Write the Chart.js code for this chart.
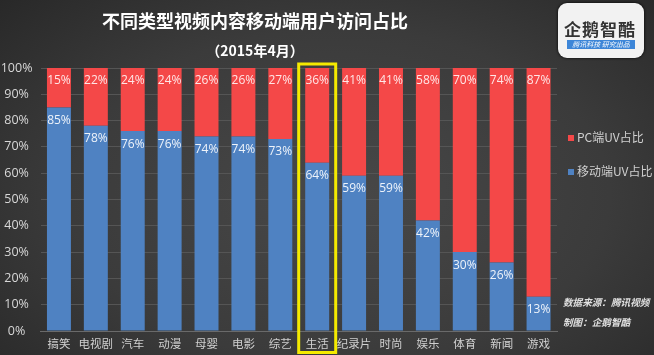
<!DOCTYPE html>
<html><head><meta charset="utf-8">
<script src="https://cdn.jsdelivr.net/npm/chart.js@4/dist/chart.umd.min.js"></script>
<style>
html,body{margin:0;padding:0;}
body{width:654px;height:355px;overflow:hidden;position:relative;
background:radial-gradient(ellipse 75% 85% at 52% 55%, #484848 0%, #3b3b3b 55%, #262626 100%);
font-family:"Noto Sans CJK SC","Noto Sans",sans-serif;}
#wrap{position:absolute;left:0;top:0;width:654px;height:355px;}
.title{position:absolute;left:0;width:510px;text-align:center;color:#fff;font-weight:bold;}
#t1{top:7px;font-size:18px;}
#t2{top:40px;font-size:14px;}
#logo{position:absolute;left:558px;top:3px;width:86px;height:55px;background:#f2f2f2;border-radius:9px;box-shadow:0 0 3px #000;}
#logo .n{position:absolute;left:6px;top:13px;font-size:17px;font-weight:bold;color:#333;letter-spacing:1px;}
#logo .b{position:absolute;left:9px;top:37px;width:68px;height:9px;background:#3d86d8;color:#fff;font-size:7px;line-height:9px;text-align:center;font-style:italic;}
.lg{position:absolute;left:568px;font-size:12px;color:#d0d0d0;line-height:14px;white-space:nowrap;}
.lg i{display:inline-block;width:6px;height:6px;margin-right:3px;vertical-align:1px;}
.src{position:absolute;left:563px;font-size:9.6px;color:#e0e0e0;font-style:italic;font-weight:bold;white-space:nowrap;}
</style></head>
<body>
<div id="wrap"><canvas id="c" width="654" height="355"></canvas></div>
<div class="title" id="t1">不同类型视频内容移动端用户访问占比</div>
<div class="title" id="t2">（2015年4月）</div>
<div id="logo"><div class="n">企鹅智酷</div><div class="b">腾讯科技 研究出品</div></div>
<div class="lg" style="top:130px"><i style="background:#f44848"></i>PC端UV占比</div>
<div class="lg" style="top:164px"><i style="background:#4f82c2"></i>移动端UV占比</div>
<div class="src" style="top:295px">数据来源：腾讯视频</div>
<div class="src" style="top:315px">制图：企鹅智酷</div>
<script>
const categories = ["搞笑","电视剧","汽车","动漫","母婴","电影","综艺","生活","纪录片","时尚","娱乐","体育","新闻","游戏"];
const mobileShare = [85,78,76,76,74,74,73,64,59,59,42,30,26,13];
const pcShare = [15,22,24,24,26,26,27,36,41,41,58,70,74,87];
const yTicks = [0,10,20,30,40,50,60,70,80,90,100];
const highlightIndex = 7;

const labelPlugin = {
  id:'labels',
  afterDatasetsDraw(chart){
    const ctx = chart.ctx;
    const y = chart.scales.y;
    ctx.save();
    ctx.font = '12px "Open Sans","Noto Sans",sans-serif';
    ctx.textAlign = 'center';
    ctx.textBaseline = 'middle';
    chart.getDatasetMeta(0).data.forEach((bar,i)=>{
      ctx.fillStyle = '#eef3fa';
      ctx.fillText(mobileShare[i]+'%', bar.x, y.getPixelForValue(mobileShare[i]) + 13);
    });
    chart.getDatasetMeta(1).data.forEach((bar,i)=>{
      ctx.fillStyle = '#ffe6e6';
      ctx.fillText(pcShare[i]+'%', bar.x, y.getPixelForValue(100) + 13);
    });
    const x = chart.scales.x.getPixelForValue(highlightIndex);
    ctx.strokeStyle = '#f5ea00';
    ctx.lineWidth = 3;
    ctx.strokeRect(x-18.5, y.getPixelForValue(100)-4, 37, chart.height - y.getPixelForValue(100) + 1.5);
    ctx.restore();
  }
};

new Chart(document.getElementById('c'), {
  type:'bar',
  data:{
    labels:categories,
    datasets:[
      {label:'移动端UV占比', data:mobileShare, backgroundColor:'#4f82c2', stack:'s'},
      {label:'PC端UV占比', data:pcShare, backgroundColor:'#f44848', stack:'s'}
    ]
  },
  options:{
    responsive:false, animation:false,
    devicePixelRatio:1,
    layout:{padding:{top:68,right:97,bottom:0,left:0}},
    plugins:{legend:{display:false}, tooltip:{enabled:false}},
    datasets:{bar:{categoryPercentage:0.65, barPercentage:1}},
    scales:{
      x:{stacked:true,
        grid:{display:false, drawTicks:false},
        border:{display:true,color:'#6a6a6a'},
        ticks:{color:'#d0d0d0', font:{size:11.5, family:'"Noto Sans CJK SC"'}, padding:6, maxRotation:0, autoSkip:false},
        afterFit(s){ s.height = 24; }
      },
      y:{stacked:true, min:0, max:100,
        afterBuildTicks(s){ s.ticks = yTicks.map(v=>({value:v})); },
        grid:{color:'#555555', drawTicks:false},
        border:{display:false},
        ticks:{color:'#d8d8d8', font:{size:12.5, family:'"Open Sans","Noto Sans",sans-serif'}, padding:8, crossAlign:'center',
          callback:v=>v+'%'},
        afterFit(s){ s.width = 40.5; }
      }
    }
  },
  plugins:[labelPlugin]
});
</script>
</body></html>
